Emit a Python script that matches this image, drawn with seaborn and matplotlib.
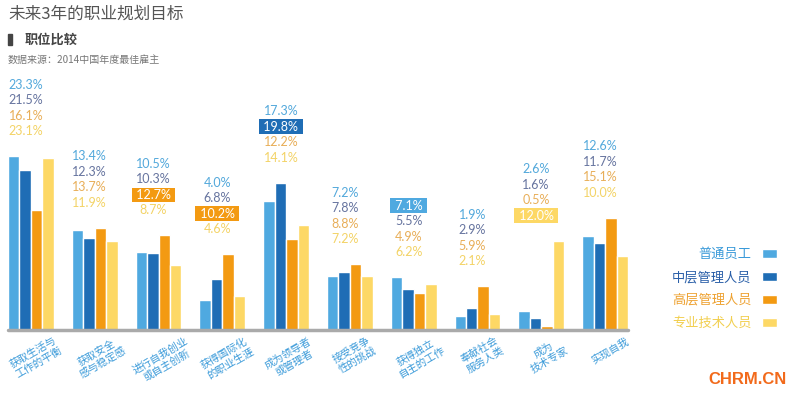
import seaborn as sns
import pandas as pd
import matplotlib.pyplot as plt
from matplotlib.patches import Rectangle
from matplotlib.transforms import ScaledTranslation

# 数据
categories = ['获取生活与\n工作的平衡', '获取安全\n感与稳定感', '进行自我创业\n或自主创新',
              '获得国际化\n的职业生涯', '成为领导者\n或管理者', '接受竞争\n性的挑战',
              '获得独立\n自主的工作', '奉献社会\n服务人类', '成为\n技术专家', '实现自我']
series = ['普通员工', '中层管理人员', '高层管理人员', '专业技术人员']
staff = [23.3, 13.4, 10.5, 4.0, 17.3, 7.2, 7.1, 1.9, 2.6, 12.6]
middle = [21.5, 12.3, 10.3, 6.8, 19.8, 7.8, 5.5, 2.9, 1.6, 11.7]
senior = [16.1, 13.7, 12.7, 10.2, 12.2, 8.8, 4.9, 5.9, 0.5, 15.1]
tech = [23.1, 11.9, 8.7, 4.6, 14.1, 7.2, 6.2, 2.1, 12.0, 10.0]
# 高亮的标签 (类别序号, 系列序号)
highlights = [(2, 2), (3, 2), (4, 1), (6, 0), (8, 3)]

bar_colors = ['#4fa9e0', '#1f6db5', '#f39a12', '#fdd865']
text_colors = ['#52a8db', '#66749f', '#e8ae58', '#f3d366']

df = pd.DataFrame({'类别': categories * 4,
                   '比例': staff + middle + senior + tech,
                   '人员': sum([[s] * len(categories) for s in series], [])})

sns.set_theme(style='white')
plt.rcParams['font.family'] = ['Noto Sans CJK SC', 'DejaVu Sans']

fig = plt.figure(figsize=(8, 3.97), dpi=100)
ax = fig.add_axes([8 / 800, 67 / 397, 620 / 800, 330 / 397])

sns.barplot(data=df, x='类别', y='比例', hue='人员', palette=bar_colors,
            width=0.72, saturation=1, ax=ax)

ax.set_xlim(-0.36, 9.36)
ax.set_ylim(0, 44.3)
sns.despine(ax=ax, left=True, bottom=True)
ax.set_yticks([])
ax.set_xlabel('')
ax.set_ylabel('')
ax.axhline(0, color='#aaaaaa', lw=2.5, clip_on=False, zorder=5)
ax.tick_params(axis='x', length=0, pad=4)
ax.set_xticks(range(len(categories)))
ax.set_xticklabels(categories, rotation=30, ha='center', va='top',
                   color='#3a9ad9', fontsize=7.5, linespacing=1.15)
shift = ScaledTranslation(5 / 100, 0, fig.dpi_scale_trans)
for lab in ax.get_xticklabels():
    lab.set_transform(lab.get_transform() + shift)

# 数值标签
values = [staff, middle, senior, tech]
for i in range(len(categories)):
    top = max(v[i] for v in values)
    for k in range(4):
        txt = f'{values[k][i]:.1f}%'
        kw = {}
        color = text_colors[k]
        if (i, k) in highlights:
            color = 'white'
            txt = ' ' + txt + ' '
            kw['bbox'] = dict(boxstyle='square,pad=0.1', fc=bar_colors[k], ec='none')
        ax.annotate(txt, (i - 0.08, top), xytext=(0, 25 + (3 - k) * 15.5),
                    textcoords='offset pixels', ha='center', va='center',
                    fontsize=9, color=color, family=['Lato', 'DejaVu Sans'],
                    annotation_clip=False, **kw)

# 图例
handles, labels = ax.get_legend_handles_labels()
leg = ax.legend(handles, labels, loc='center right', bbox_to_anchor=(784 / 800, 1 - 289 / 397),
                bbox_transform=fig.transFigure, frameon=False, markerfirst=False,
                fontsize=9.5, handlelength=1.15, handleheight=0.7, labelspacing=0.75,
                handletextpad=0.8, borderpad=0, labelcolor=['#3a9ad9', '#2a5fa8', '#eea232', '#f2cf50'])

# 标题
fig.text(8 / 800, 1 - 14 / 397, '未来3年的职业规划目标', fontsize=12, color='#555555', va='center')
fig.patches.append(Rectangle((8 / 800, 1 - 45 / 397), 4 / 800, 11 / 397,
                             transform=fig.transFigure, color='#444444'))
fig.text(25 / 800, 1 - 40 / 397, '职位比较', fontsize=9.5, color='#444444', va='center',
         fontweight='bold')
fig.text(8 / 800, 1 - 60 / 397, '数据来源：2014中国年度最佳雇主', fontsize=7.2,
         color='#777777', va='center')
fig.text(787 / 800, 1 - 380 / 397, 'CHRM.CN', fontsize=12, fontweight='bold',
         color='#f26a1b', ha='right', va='center', family=['Liberation Sans', 'DejaVu Sans'])

fig.savefig('out.png', dpi=100)
